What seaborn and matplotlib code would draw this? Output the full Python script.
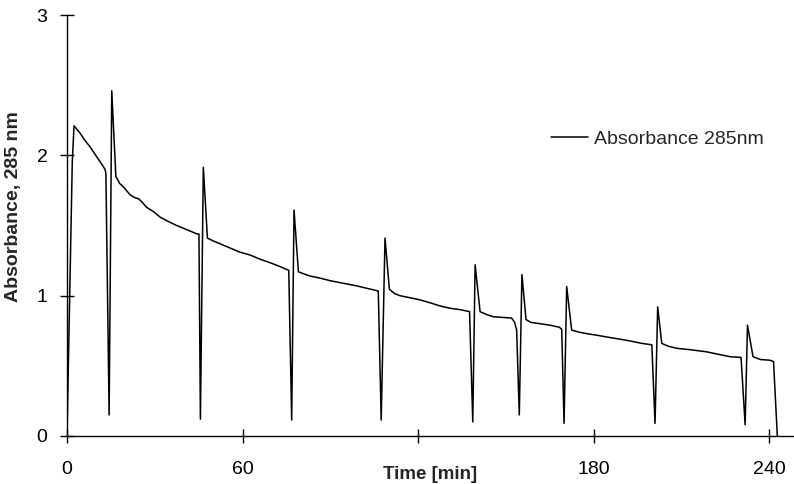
import pandas as pd
import seaborn as sns
import matplotlib.pyplot as plt

# Absorbance trace (time in min, absorbance at 285 nm)
time_min = [
    0, 1.8, 2.4, 4.4, 6.0, 7.9, 9.5, 11.3, 13.0, 13.3,
    14.4, 15.3, 16.7,
    18.0, 19.5, 21.5, 23.0, 24.5, 25.5, 27.2, 29.5, 31.8, 34.5, 37.5, 41.0, 44.4, 45.1,
    45.6, 46.6, 48.0,
    50.0, 52.3, 55.7, 59.1, 62.5, 66.0, 69.4, 72.5, 75.3, 75.8,
    76.8, 77.6, 79.1,
    81.0, 83.1, 86.5, 89.9, 94.0, 99.0, 103.0, 106.4,
    107.4, 108.7, 110.2,
    112.0, 113.8, 117.3, 120.7, 124.0, 127.5, 131.0, 134.5, 137.6,
    138.7, 139.5, 141.2,
    143.5, 145.7, 149.0, 152.0, 153.0, 153.7,
    154.6, 155.5, 156.9,
    158.5, 161.7, 165.0, 168.3, 169.1,
    169.9, 170.8, 172.5,
    175.0, 177.5, 182.0, 186.0, 189.1, 193.0, 196.5, 199.9,
    201.0, 201.9, 203.3,
    205.5, 208.4, 213.0, 218.6, 222.0, 226.7, 230.4,
    231.8, 232.6, 234.5,
    237.0, 240.3, 241.5, 242.8,
]
absorbance = [
    0, 1.95, 2.21, 2.16, 2.11, 2.06, 2.01, 1.955, 1.90, 1.87,
    0.15, 2.46, 1.85,
    1.80, 1.77, 1.72, 1.70, 1.69, 1.67, 1.63, 1.60, 1.56, 1.53, 1.50, 1.47, 1.44, 1.44,
    0.12, 1.915, 1.41,
    1.39, 1.37, 1.34, 1.31, 1.29, 1.26, 1.235, 1.21, 1.185, 1.18,
    0.114, 1.61, 1.17,
    1.155, 1.14, 1.125, 1.107, 1.09, 1.07, 1.05, 1.033,
    0.114, 1.41, 1.045,
    1.015, 1.0, 0.985, 0.97, 0.95, 0.927, 0.91, 0.90, 0.886,
    0.10, 1.22, 0.886,
    0.865, 0.85, 0.845, 0.84, 0.81, 0.755,
    0.15, 1.15, 0.83,
    0.81, 0.80, 0.79, 0.775, 0.76,
    0.09, 1.065, 0.755,
    0.74, 0.73, 0.715, 0.70, 0.69, 0.675, 0.66, 0.65,
    0.09, 0.92, 0.66,
    0.64, 0.625, 0.615, 0.60, 0.585, 0.565, 0.56,
    0.08, 0.79, 0.565,
    0.545, 0.54, 0.53, 0.0,
]

x_ticks = [0, 60, 120, 180, 240]
x_tick_labels = ['0', '60', '', '180', '240']
y_ticks = [0, 1, 2, 3]

df = pd.DataFrame({'Time': time_min, 'Absorbance': absorbance})

sns.set_style('ticks')
plt.rcParams['font.family'] = ['Liberation Sans', 'DejaVu Sans']

fig = plt.figure(figsize=(7.94, 4.84), dpi=100)
ax = fig.add_axes([67 / 794, 48 / 484, 727 / 794, 421 / 484])

sns.lineplot(data=df, x='Time', y='Absorbance', sort=False, estimator=None,
             color='black', linewidth=1.1, ax=ax, label='Absorbance 285nm')

ax.set_xlim(0, 248.5)
ax.set_ylim(0, 3)
ax.set_xticks(x_ticks)
ax.set_xticklabels(x_tick_labels)
ax.set_yticks(y_ticks)
ax.set_yticklabels([str(v) for v in y_ticks])

sns.despine(ax=ax)
for side in ['left', 'bottom']:
    ax.spines[side].set_linewidth(1.0)
    ax.spines[side].set_color('black')

ax.tick_params(axis='x', direction='inout', length=10, width=1.0, pad=13,
               labelsize=14, colors='black')
ax.tick_params(axis='y', direction='inout', length=10, width=1.0, pad=9,
               labelsize=14, colors='black')

ax.set_xlabel('Time [min]', fontsize=13.5, fontweight='bold')
ax.xaxis.set_label_coords(0.5, -0.072)
ax.set_ylabel('Absorbance, 285 nm', fontsize=14, fontweight='bold')
ax.yaxis.set_label_coords(-0.062, 0.545)

ax.legend(loc='center left', bbox_to_anchor=(551 / 794, 1 - 139 / 484),
          bbox_transform=fig.transFigure, frameon=False, fontsize=14,
          borderpad=0, borderaxespad=0, handlelength=1.9, handletextpad=0.3)

fig.savefig('out.png', dpi=100)
